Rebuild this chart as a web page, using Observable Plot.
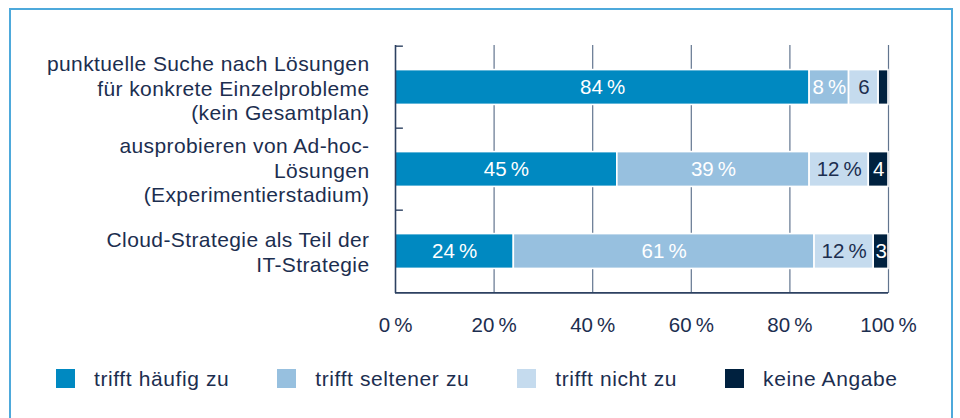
<!DOCTYPE html>
<html>
<head>
<meta charset="utf-8">
<script src="https://cdn.jsdelivr.net/npm/d3@7"></script>
<script src="https://cdn.jsdelivr.net/npm/@observablehq/plot@0.6"></script>
<style>
  html, body { margin: 0; padding: 0; background: #fff; width: 960px; height: 418px; overflow: hidden; }
  body { position: relative; font-family: "Liberation Sans", Arial, sans-serif; color: #1c2e4f; }
  #frame { position: absolute; left: 9px; top: 8px; width: 940px; height: 440px; border: 2px solid #4ea9db; border-bottom: none; }
  #chart { position: absolute; left: 0; top: 0; }
  #chart svg g[aria-label="y-axis tick label"] text { letter-spacing: 0.4px; }
  #legend { position: absolute; left: 56px; top: 369px; display: flex; gap: 48px; font-size: 21px; letter-spacing: 0.6px; line-height: 19px; }
  .item { display: flex; align-items: center; }
  .sw { width: 19px; height: 19px; margin-right: 19px; flex: none; }
</style>
</head>
<body>
<div id="frame"></div>
<div id="chart"></div>
<div id="legend"></div>
<script>
const categories = [
  "punktuelle Suche nach Lösungen\nfür konkrete Einzelprobleme\n(kein Gesamtplan)",
  "ausprobieren von Ad-hoc-\nLösungen\n(Experimentierstadium)",
  "Cloud-Strategie als Teil der\nIT-Strategie"
];
const seriesNames = ["trifft häufig zu", "trifft seltener zu", "trifft nicht zu", "keine Angabe"];
const haeufig  = [84, 45, 24];
const seltener = [8, 39, 61];
const nicht    = [6, 12, 12];
const keine    = [2, 4, 3];
const xTicks = [0, 20, 40, 60, 80, 100];
const colors = ["#0089c1", "#97c0df", "#c5dbee", "#00213f"];

const seriesValues = [haeufig, seltener, nicht, keine];
const data = [];
categories.forEach((c, i) => {
  seriesNames.forEach((s, j) => {
    data.push({cat: c, series: s, value: seriesValues[j][i]});
  });
});
const labelOf = d => d.value >= 8 ? d.value + "\u2009%" : (d.value >= 3 ? String(d.value) : "");

const W = 960, H = 350, mT = 45, mB = 57, mL = 395, mR = 72;
const step = (H - mT - mB) / categories.length;
const barH = 35.5;
const inset = (step - barH) / 2;
const navy = "#1c2e4f";
const axisCol = "#2d4161";

const plot = Plot.plot({
  width: W, height: H,
  marginTop: mT, marginBottom: mB, marginLeft: mL, marginRight: mR,
  style: {background: "transparent", fontFamily: "Liberation Sans, Arial, sans-serif", color: navy, overflow: "visible"},
  x: {domain: [0, 100]},
  y: {domain: categories, padding: 0},
  color: {domain: seriesNames, range: colors},
  marks: [
    Plot.gridX({ticks: xTicks.slice(1), stroke: "#62758f", strokeOpacity: 1, strokeWidth: 1.2}),
    Plot.barX(data, Plot.stackX({x: "value", y: "cat", z: "series", fill: "series",
      stroke: "white", strokeWidth: 1.6, insetTop: inset, insetBottom: inset})),
    Plot.text(data, Plot.stackX({x: "value", y: "cat", z: "series", text: labelOf,
      fill: d => d.series === "trifft nicht zu" ? navy : "white", fontSize: 20.5})),
    Plot.ruleX([0], {stroke: axisCol, strokeWidth: 1.6}),
    Plot.ruleY(categories, {y: d => d, x1: 0, x2: 1.6, dy: -step / 2, stroke: axisCol, strokeWidth: 1.4}),
    Plot.ruleY([categories[categories.length - 1]], {y: d => d, x1: 0, x2: 100, dy: step / 2, stroke: axisCol, strokeWidth: 1.6}),
    Plot.axisY({tickSize: 0, tickPadding: 26, fontSize: 21, lineHeight: 1.19, label: null, fill: navy}),
    Plot.axisX({ticks: xTicks, tickFormat: d => d + "\u2009%", tickSize: 0, tickPadding: 24, fontSize: 20.5, label: null, fill: navy})
  ]
});
document.getElementById("chart").appendChild(plot);

const legend = document.getElementById("legend");
seriesNames.forEach((s, i) => {
  const item = document.createElement("div");
  item.className = "item";
  const sw = document.createElement("span");
  sw.className = "sw";
  sw.style.background = colors[i];
  const t = document.createElement("span");
  t.textContent = s;
  item.appendChild(sw);
  item.appendChild(t);
  legend.appendChild(item);
});
</script>
</body>
</html>
